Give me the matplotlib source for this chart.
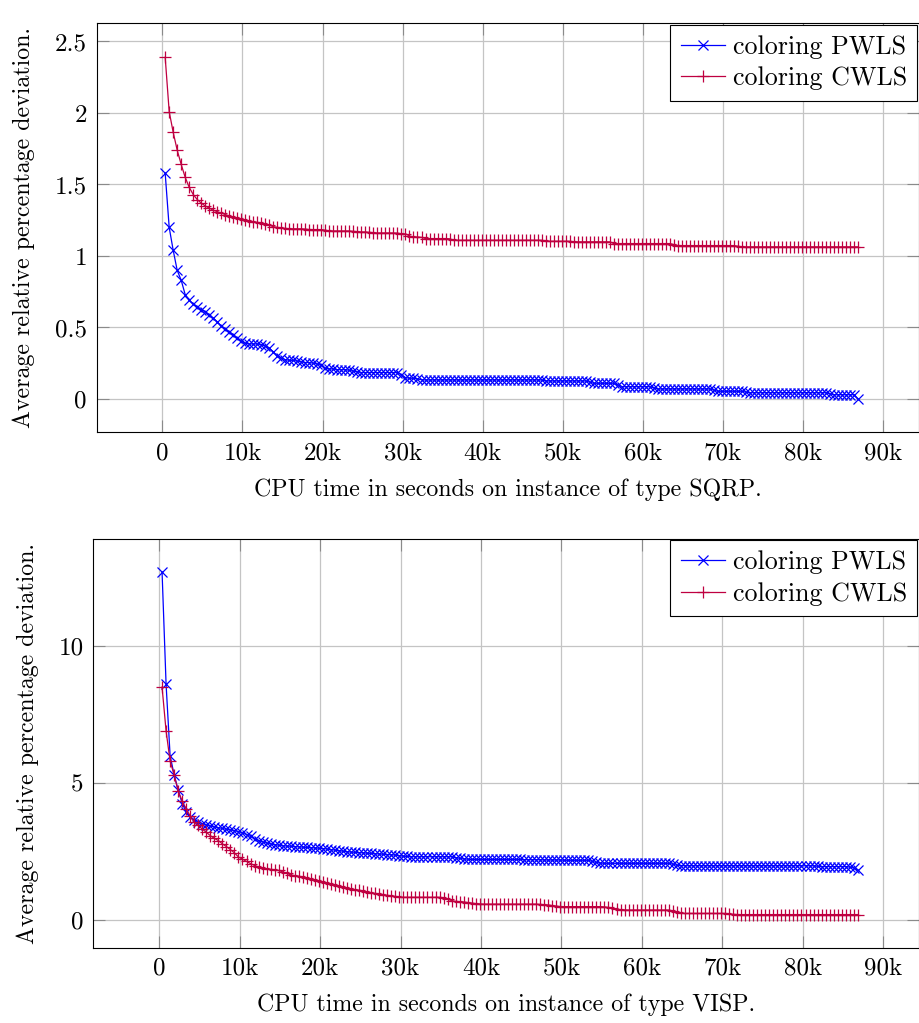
import matplotlib
matplotlib.use("Agg")
import matplotlib.pyplot as plt
import numpy as np

# sampling times (seconds), one sample every 500 s
time_s = np.arange(350, 87000, 500)

sqrp_pwls = [
    1.58, 1.20, 1.04, 0.90, 0.83, 0.73, 0.69, 0.665, 0.645, 0.625,
    0.61, 0.59, 0.565, 0.54, 0.51, 0.49, 0.47, 0.45, 0.425, 0.405,
    0.39, 0.385, 0.385, 0.385, 0.38, 0.37, 0.355, 0.33, 0.30, 0.285,
    0.275, 0.27, 0.27, 0.265, 0.26, 0.255, 0.255, 0.25, 0.245, 0.235,
    0.215, 0.21, 0.21, 0.205, 0.205, 0.205, 0.20, 0.195, 0.19, 0.185,
    0.185, 0.185, 0.185, 0.185, 0.185, 0.185, 0.185, 0.185, 0.185, 0.17,
    0.15, 0.145, 0.145, 0.14, 0.135, 0.133, 0.133, 0.133, 0.133, 0.133,
    0.133, 0.133, 0.133, 0.133, 0.133, 0.133, 0.133, 0.133, 0.133, 0.133,
    0.133, 0.133, 0.133, 0.133, 0.133, 0.133, 0.133, 0.133, 0.133, 0.133,
    0.133, 0.133, 0.133, 0.133, 0.133, 0.126, 0.126, 0.126, 0.126, 0.126,
    0.126, 0.126, 0.126, 0.126, 0.126, 0.126, 0.118, 0.11, 0.11, 0.11,
    0.11, 0.11, 0.11, 0.098, 0.086, 0.086, 0.086, 0.086, 0.086, 0.086,
    0.086, 0.086, 0.078, 0.07, 0.07, 0.07, 0.07, 0.07, 0.07, 0.07,
    0.07, 0.07, 0.07, 0.07, 0.07, 0.07, 0.07, 0.062, 0.054, 0.054,
    0.054, 0.054, 0.054, 0.054, 0.054, 0.048, 0.044, 0.044, 0.044, 0.044,
    0.044, 0.044, 0.044, 0.044, 0.044, 0.044, 0.044, 0.044, 0.044, 0.044,
    0.044, 0.044, 0.044, 0.044, 0.044, 0.044, 0.036, 0.03, 0.03, 0.03,
    0.03, 0.03, 0.03, 0.0,
]

sqrp_cwls = [
    2.39, 2.01, 1.865, 1.74, 1.64, 1.55, 1.48, 1.43, 1.395, 1.37,
    1.35, 1.335, 1.32, 1.31, 1.30, 1.29, 1.28, 1.27, 1.265, 1.26,
    1.25, 1.245, 1.24, 1.235, 1.23, 1.225, 1.215, 1.205, 1.20, 1.195,
    1.193, 1.19, 1.19, 1.19, 1.19, 1.188, 1.185, 1.185, 1.185, 1.185,
    1.18, 1.175, 1.175, 1.175, 1.175, 1.175, 1.175, 1.172, 1.17, 1.168,
    1.168, 1.165, 1.163, 1.161, 1.161, 1.161, 1.161, 1.161, 1.16, 1.155,
    1.155, 1.14, 1.133, 1.133, 1.13, 1.122, 1.122, 1.122, 1.122, 1.122,
    1.122, 1.12, 1.11, 1.11, 1.11, 1.11, 1.11, 1.11, 1.11, 1.11,
    1.11, 1.11, 1.11, 1.11, 1.11, 1.11, 1.11, 1.11, 1.11, 1.11,
    1.11, 1.11, 1.11, 1.11, 1.11, 1.103, 1.103, 1.103, 1.103, 1.103,
    1.103, 1.103, 1.099, 1.099, 1.099, 1.099, 1.099, 1.099, 1.099, 1.099,
    1.099, 1.099, 1.087, 1.087, 1.087, 1.087, 1.087, 1.087, 1.087, 1.087,
    1.087, 1.087, 1.087, 1.087, 1.087, 1.087, 1.087, 1.08, 1.073, 1.073,
    1.073, 1.073, 1.073, 1.073, 1.073, 1.073, 1.073, 1.073, 1.073, 1.073,
    1.073, 1.073, 1.073, 1.068, 1.064, 1.064, 1.064, 1.064, 1.064, 1.064,
    1.064, 1.064, 1.064, 1.064, 1.064, 1.064, 1.064, 1.064, 1.064, 1.064,
    1.064, 1.064, 1.064, 1.064, 1.064, 1.064, 1.064, 1.064, 1.064, 1.064,
    1.064, 1.064, 1.064, 1.064,
]

visp_pwls = [
    12.7, 8.6, 6.0, 5.3, 4.75, 4.25, 3.95, 3.75, 3.65, 3.58,
    3.52, 3.47, 3.43, 3.40, 3.37, 3.34, 3.31, 3.29, 3.26, 3.23,
    3.18, 3.12, 3.05, 2.97, 2.90, 2.85, 2.81, 2.78, 2.75, 2.73,
    2.71, 2.70, 2.69, 2.68, 2.67, 2.66, 2.65, 2.64, 2.63, 2.62,
    2.61, 2.59, 2.57, 2.55, 2.53, 2.51, 2.49, 2.48, 2.47, 2.46,
    2.45, 2.44, 2.43, 2.42, 2.41, 2.40, 2.39, 2.38, 2.37, 2.35,
    2.33, 2.32, 2.31, 2.31, 2.31, 2.31, 2.31, 2.31, 2.31, 2.31,
    2.31, 2.31, 2.31, 2.28, 2.25, 2.23, 2.22, 2.21, 2.21, 2.21,
    2.21, 2.21, 2.21, 2.21, 2.21, 2.21, 2.21, 2.21, 2.21, 2.21,
    2.20, 2.20, 2.20, 2.20, 2.20, 2.19, 2.19, 2.19, 2.19, 2.19,
    2.18, 2.18, 2.18, 2.18, 2.18, 2.18, 2.18, 2.14, 2.10, 2.08,
    2.07, 2.07, 2.07, 2.07, 2.07, 2.07, 2.07, 2.07, 2.07, 2.07,
    2.07, 2.07, 2.07, 2.07, 2.07, 2.07, 2.07, 2.04, 2.00, 1.99,
    1.98, 1.98, 1.98, 1.98, 1.98, 1.98, 1.98, 1.98, 1.98, 1.98,
    1.98, 1.98, 1.98, 1.98, 1.98, 1.98, 1.98, 1.98, 1.98, 1.98,
    1.98, 1.98, 1.98, 1.98, 1.98, 1.98, 1.98, 1.98, 1.98, 1.98,
    1.98, 1.98, 1.98, 1.96, 1.95, 1.95, 1.95, 1.95, 1.95, 1.95,
    1.95, 1.93, 1.90, 1.82,
]

visp_cwls = [
    8.5, 6.9, 5.8, 5.3, 4.7, 4.35, 4.05, 3.8, 3.57, 3.45,
    3.32, 3.2, 3.08, 2.98, 2.9, 2.78, 2.68, 2.57, 2.45, 2.3,
    2.22, 2.14, 2.06, 1.99, 1.94, 1.9, 1.87, 1.85, 1.83, 1.81,
    1.76, 1.7, 1.65, 1.62, 1.6, 1.56, 1.52, 1.5, 1.47, 1.43,
    1.39, 1.35, 1.31, 1.27, 1.23, 1.2, 1.17, 1.14, 1.11, 1.09,
    1.06, 1.03, 1.0, 0.97, 0.95, 0.93, 0.9, 0.88, 0.86, 0.84,
    0.83, 0.83, 0.83, 0.83, 0.83, 0.83, 0.83, 0.83, 0.83, 0.83,
    0.81, 0.76, 0.71, 0.68, 0.67, 0.66, 0.64, 0.62, 0.6, 0.59,
    0.58, 0.58, 0.58, 0.58, 0.58, 0.58, 0.58, 0.58, 0.58, 0.58,
    0.58, 0.58, 0.58, 0.58, 0.57, 0.56, 0.55, 0.53, 0.51, 0.49,
    0.49, 0.49, 0.49, 0.49, 0.49, 0.49, 0.49, 0.49, 0.49, 0.49,
    0.48, 0.46, 0.43, 0.4, 0.38, 0.37, 0.365, 0.365, 0.365, 0.365,
    0.365, 0.365, 0.365, 0.365, 0.365, 0.365, 0.365, 0.33, 0.28, 0.25,
    0.24, 0.24, 0.24, 0.24, 0.24, 0.24, 0.24, 0.24, 0.24, 0.24,
    0.24, 0.22, 0.21, 0.2, 0.2, 0.2, 0.2, 0.2, 0.2, 0.2,
    0.2, 0.2, 0.2, 0.2, 0.2, 0.2, 0.2, 0.2, 0.2, 0.2,
    0.2, 0.2, 0.2, 0.2, 0.2, 0.2, 0.2, 0.2, 0.2, 0.2,
    0.2, 0.2, 0.2, 0.2,
]

x_ticks = [0, 10000, 20000, 30000, 40000, 50000, 60000, 70000, 80000, 90000]
x_ticklabels = ["0", "10k", "20k", "30k", "40k", "50k", "60k", "70k", "80k", "90k"]
sqrp_yticks = [0, 0.5, 1, 1.5, 2, 2.5]
sqrp_yticklabels = ["0", "0.5", "1", "1.5", "2", "2.5"]
visp_yticks = [0, 5, 10]
visp_yticklabels = ["0", "5", "10"]

plt.rcParams['font.family'] = ['cmr10', 'DejaVu Serif']
plt.rcParams['mathtext.fontset'] = 'cm'
plt.rcParams['axes.unicode_minus'] = False

BLUE = '#0000ff'
PURPLE = '#bf0040'

fig = plt.figure(figsize=(9.2, 10.23), dpi=100)
ax1 = fig.add_axes([0.1051, 0.5774, 0.8933, 0.3998])
ax2 = fig.add_axes([0.1014, 0.0733, 0.8970, 0.3998])


def style(ax, ylim, yticks, yticklabels, xlabel):
    ax.set_xlim(-8200, 94400)
    ax.set_ylim(*ylim)
    ax.set_xticks(x_ticks)
    ax.set_xticklabels(x_ticklabels)
    ax.set_yticks(yticks)
    ax.set_yticklabels(yticklabels)
    ax.grid(True, color='#c4c4c4', linewidth=0.9)
    ax.set_axisbelow(True)
    ax.tick_params(direction='in', length=8.5, width=0.8, color='#8a8a8a',
                   top=True, right=True, labelsize=18, pad=7)
    for s in ax.spines.values():
        s.set_linewidth(0.8)
        s.set_color('black')
    ax.set_xlabel(xlabel, fontsize=17.2, labelpad=10)
    ax.set_ylabel("Average relative percentage deviation.", fontsize=17.2, labelpad=14)
    leg = ax.legend(loc='upper right', bbox_to_anchor=(1.0, 1.0), borderaxespad=0.05,
                    fontsize=18.7, fancybox=False, framealpha=1, edgecolor='black',
                    handlelength=1.7, handletextpad=0.3, borderpad=0.4, labelspacing=0.3)
    leg.get_frame().set_linewidth(0.8)


ax1.plot(time_s, sqrp_pwls, color=BLUE, marker='x', markersize=6.5, markeredgewidth=0.9,
         linewidth=0.9, label='coloring PWLS')
ax1.plot(time_s, sqrp_cwls, color=PURPLE, marker='+', markersize=9, markeredgewidth=0.9,
         linewidth=0.9, label='coloring CWLS')
style(ax1, (-0.233, 2.627), sqrp_yticks, sqrp_yticklabels,
      "CPU time in seconds on instance of type SQRP.")

ax2.plot(time_s, visp_pwls, color=BLUE, marker='x', markersize=6.5, markeredgewidth=0.9,
         linewidth=0.9, label='coloring PWLS')
ax2.plot(time_s, visp_cwls, color=PURPLE, marker='+', markersize=9, markeredgewidth=0.9,
         linewidth=0.9, label='coloring CWLS')
style(ax2, (-1.02, 13.9), visp_yticks, visp_yticklabels,
      "CPU time in seconds on instance of type VISP.")

fig.savefig("out.png", dpi=100)
